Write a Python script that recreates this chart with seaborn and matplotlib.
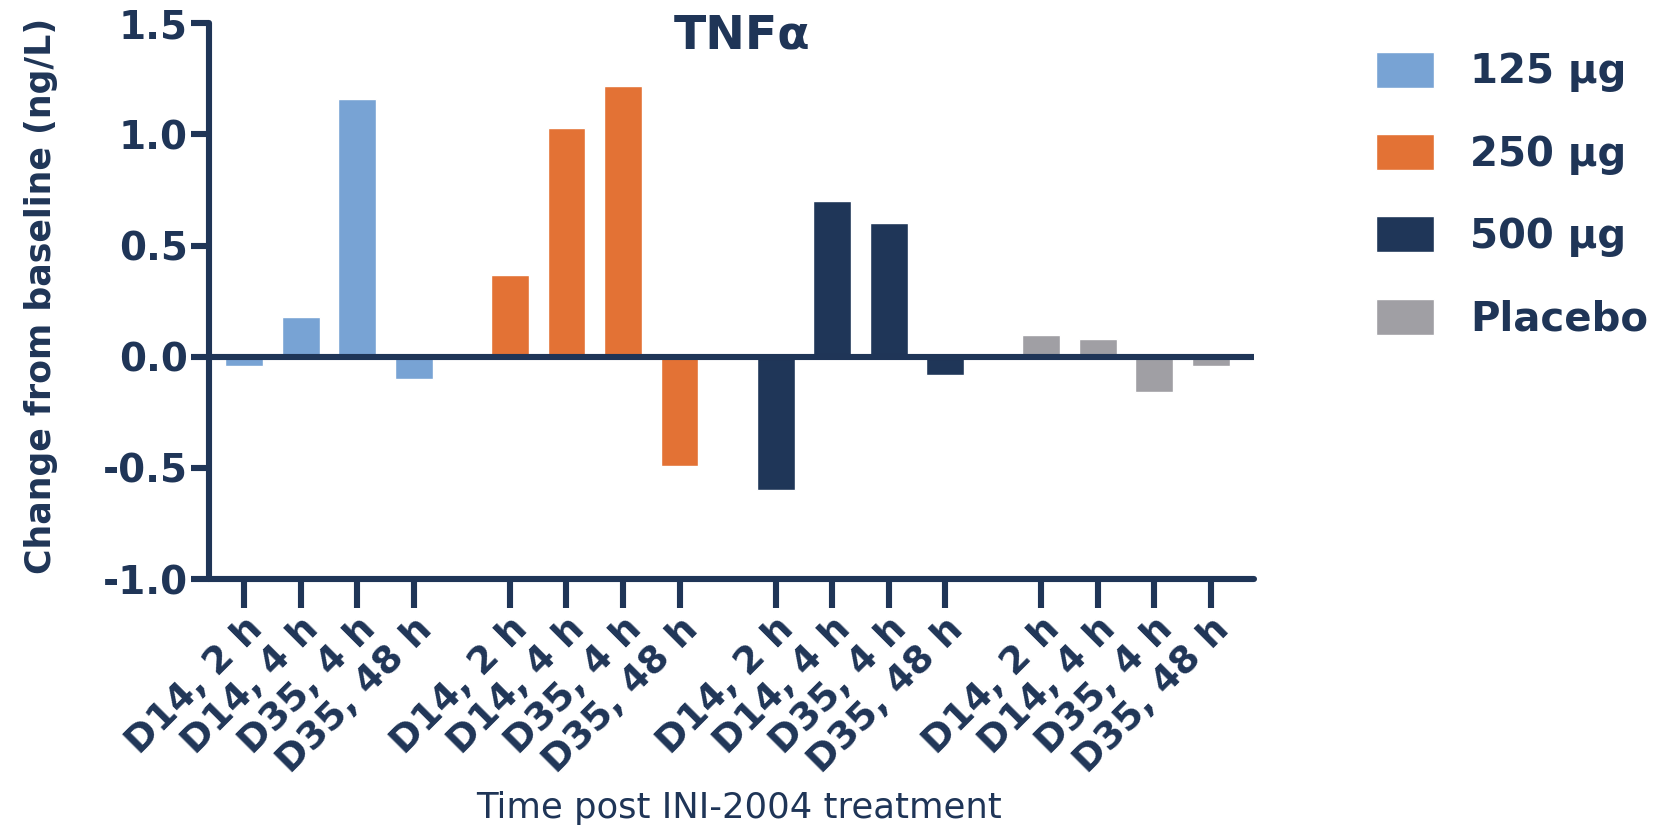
import numpy as np
import pandas as pd
import matplotlib
matplotlib.use("Agg")
import matplotlib.pyplot as plt
import seaborn as sns
from matplotlib.transforms import ScaledTranslation

# TNF-alpha change from baseline per dose group and sampling time
doses = ["125 µg", "250 µg", "500 µg", "Placebo"]
timepoints = ["D14, 2 h", "D14, 4 h", "D35, 4 h", "D35, 48 h"]
tnf_125 = [-0.04, 0.18, 1.16, -0.10]
tnf_250 = [0.37, 1.03, 1.22, -0.49]
tnf_500 = [-0.60, 0.70, 0.60, -0.08]
tnf_placebo = [0.10, 0.08, -0.16, -0.04]
y_ticks = [-1.0, -0.5, 0.0, 0.5, 1.0, 1.5]

palette = ["#78A3D4", "#E37235", "#1F3658", "#A09FA4"]
navy = "#1F3557"
line_w = 4.4

# bars of a dose group sit one unit apart, groups are separated by a wider gap
group_step = 4.7
rows = []
for g, (dose, vals) in enumerate(zip(doses, [tnf_125, tnf_250, tnf_500, tnf_placebo])):
    for i, (tp, v) in enumerate(zip(timepoints, vals)):
        rows.append({"dose": dose, "time": tp, "pos": round(g * group_step + i, 3), "change": v})
df = pd.DataFrame(rows)

sns.set_style("ticks")
plt.rcParams["font.family"] = ["DejaVu Sans"]
plt.rcParams["axes.unicode_minus"] = False

fig = plt.figure(figsize=(16.6, 8.32), dpi=100)
ax = fig.add_axes([0.1257, 0.304, 0.630, 0.668])

sns.barplot(data=df, x="pos", y="change", hue="dose", hue_order=doses,
            palette=palette, native_scale=True, dodge=False, width=0.67,
            saturation=1, errorbar=None, ax=ax)

ax.axhline(0, color=navy, lw=line_w, zorder=5, solid_capstyle="round")

ax.set_xlim(-0.63, 3 * group_step + 3 + 0.77)
ax.set_ylim(-1.0, 1.5)
ax.set_yticks(y_ticks)
ax.set_yticklabels([f"{t:.1f}" for t in y_ticks])
ax.set_xticks(df["pos"])
ax.set_xticklabels(df["time"], rotation=45, ha="right", va="top",
                   rotation_mode="anchor")
offset = ScaledTranslation(0.2, -0.1, fig.dpi_scale_trans)
for lab in ax.get_xticklabels():
    lab.set_transform(lab.get_transform() + offset)
    lab.set_fontweight("bold")
for lab in ax.get_yticklabels():
    lab.set_fontweight("bold")

for side in ["top", "right"]:
    ax.spines[side].set_visible(False)
for side in ["left", "bottom"]:
    ax.spines[side].set_linewidth(line_w)
    ax.spines[side].set_color(navy)
    ax.spines[side].set_capstyle("round")

ax.tick_params(axis="x", length=21, width=line_w, color=navy, labelcolor=navy,
               labelsize=27, pad=2)
ax.tick_params(axis="y", length=13, width=line_w, color=navy, labelcolor=navy,
               labelsize=28, pad=2)

ax.set_ylabel("Change from baseline (ng/L)", fontsize=25, fontweight="bold",
              color=navy)
ax.yaxis.set_label_coords(-0.144, 0.51)
ax.set_xlabel("Time post INI-2004 treatment", fontsize=25.5, color=navy)
ax.xaxis.set_label_coords(0.507, -0.382)

ax.text(0.51, 0.978, "TNFα", transform=ax.transAxes, ha="center", va="center",
        fontsize=34, fontweight="bold", color=navy)

handles, labels = ax.get_legend_handles_labels()
if ax.get_legend() is not None:
    ax.get_legend().remove()
fig.legend(handles, labels, loc="upper left", bbox_to_anchor=(0.829, 0.938),
           frameon=False, handlelength=1.44, handleheight=1.0,
           labelspacing=1.03, handletextpad=0.9, borderpad=0, borderaxespad=0,
           labelcolor=navy, prop={"weight": "bold", "size": 29})

fig.savefig("out.png", dpi=100)
